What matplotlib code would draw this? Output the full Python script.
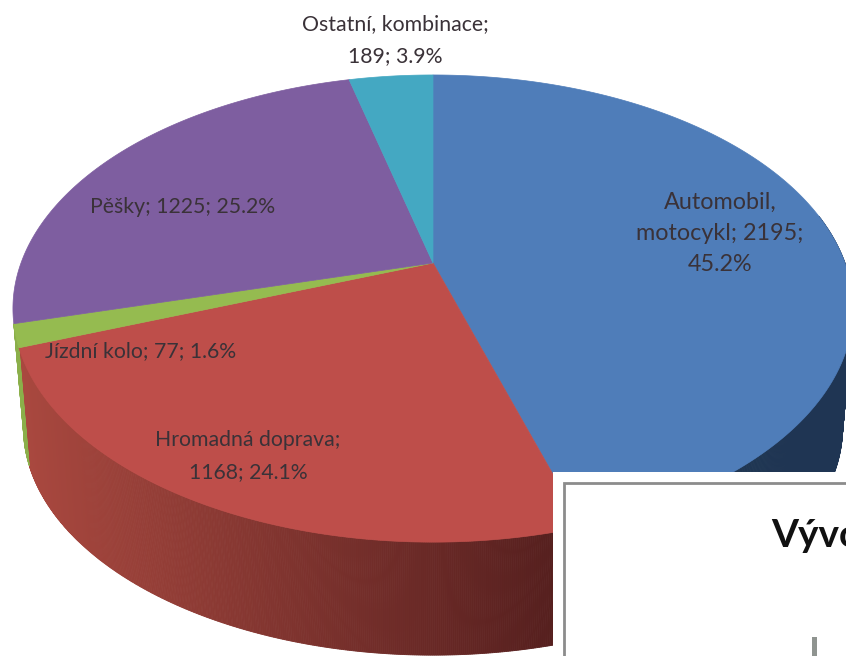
import numpy as np
import matplotlib
matplotlib.use("Agg")
import matplotlib.pyplot as plt
from matplotlib.patches import Rectangle

categories = ["Automobil, motocykl", "Hromadná doprava", "Jízdní kolo", "Pěšky", "Ostatní, kombinace"]
values = [2195, 1168, 77, 1225, 189]
percents = [45.2, 24.1, 1.6, 25.2, 3.9]
top_colors = ["#4F7DB9", "#BE4E4A", "#95BB50", "#7E5EA0", "#44A8C2"]
rim_light = ["#1F3654", "#A9483F", "#8BAF4A", "#5F4678", "#2F7F93"]
rim_dark = ["#1E3350", "#551F1E", "#8BAF4A", "#5F4678", "#2F7F93"]
rim_visible = [True, True, True, False, False]
label_text = ["Automobil,\nmotocykl; 2195;\n45.2%", "Hromadná doprava;\n1168; 24.1%",
              "Jízdní kolo; 77; 1.6%", "Pěšky; 1225; 25.2%", "Ostatní, kombinace;\n189; 3.9%"]
label_pos = [(720, 233), (248, 456), (141, 351), (183, 207), (395, 40)]
label_size = [16.8, 15.3, 15.3, 15.3, 15.3]
TEXT = "#3a3238"
plt.rcParams["font.family"] = ["Lato", "DejaVu Sans"]

cx, cy, A, B, K = 433, 263, 412, 224.7, 0.195
DEPTH, SHRINK = 120, 0.975


def proj(theta, scale=1.0, dy=0.0):
    u, v = np.sin(theta), np.cos(theta)
    w = 1 + K * v
    return cx + scale * A * u / w, cy + dy - scale * B * v / w


fig = plt.figure(figsize=(8.46, 6.56), dpi=100, facecolor="white")
ax = fig.add_axes([0, 0, 1, 1])
ax.set_xlim(0, 846)
ax.set_ylim(656, 0)
ax.axis("off")

fractions = np.array(values) / sum(values)
edges = np.concatenate([[0], np.cumsum(fractions)]) * 2 * np.pi

# rim (side wall), back to front
for i in range(len(values)):
    if not rim_visible[i]:
        continue
    a0, a1 = edges[i], edges[i + 1]
    n = max(int((a1 - a0) / 0.004), 2)
    ts = np.linspace(a0, a1, n + 1)
    c0 = np.array(matplotlib.colors.to_rgb(rim_light[i]))
    c1 = np.array(matplotlib.colors.to_rgb(rim_dark[i]))
    for t0, t1 in zip(ts[:-1], ts[1:]):
        if np.cos(t0) > 0.22:
            continue
        xa, ya = proj(np.array([t0, t1]))
        xb, yb = proj(np.array([t1, t0]), SHRINK, DEPTH)
        f = np.clip((xa[0] - 20) / 540, 0, 1) if i == 1 else (a1 - t0) / (a1 - a0)
        col = c0 + (c1 - c0) * f
        ax.fill(np.r_[xa, xb], np.r_[ya, yb], color=col, lw=0.6, zorder=2)

# top face
for i in range(len(values)):
    ts = np.linspace(edges[i], edges[i + 1], 200)
    x, y = proj(ts)
    ax.fill(np.r_[cx, x], np.r_[cy, y], color=top_colors[i], lw=0.5, zorder=3)

for txt, (x, y), fs in zip(label_text, label_pos, label_size):
    ax.text(x, y, txt, ha="center", va="center", fontsize=fs, color=TEXT,
            linespacing=1.75 * 15.3 / fs, zorder=5)

# pasted panel covering the lower right corner
ax.add_patch(Rectangle((553, 472), 300, 190, fc="white", ec="none", zorder=6))
ax.add_patch(Rectangle((563.5, 483), 300, 190, fc="white", ec="#8c8c8c", lw=2, zorder=7))
ax.text(771, 547, "Vývo", ha="left", va="baseline", fontsize=28, fontweight="bold",
        color="#111111", zorder=8)
ax.add_patch(Rectangle((812, 637), 4.5, 25, fc="#8f9490", ec="none", zorder=8))

fig.savefig("out.png", dpi=100)
